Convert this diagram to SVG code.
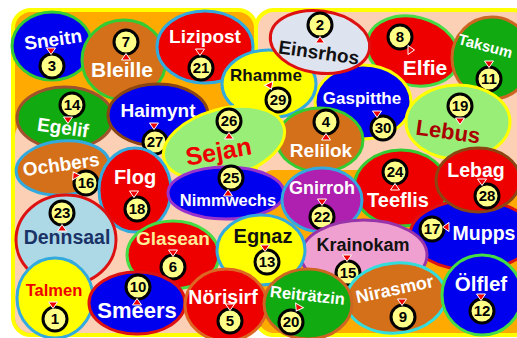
<svg xmlns="http://www.w3.org/2000/svg" xmlns:xlink="http://www.w3.org/1999/xlink" width="517" height="338" viewBox="0 0 517 338">
<style>
.e{stroke-width:3}
.l{font-family:"Liberation Sans",Arial,sans-serif;font-weight:bold;text-anchor:middle}
.w{fill:#ffffff}
.k{fill:#111111}
.nc{fill:#ffff88;stroke:#000000;stroke-width:3}
.nt{font-family:"Liberation Sans",Arial,sans-serif;font-weight:bold;font-size:15px;text-anchor:middle;fill:#000000}
.tri{fill:#ee0000;stroke:#ffffff;stroke-width:1}
</style>
<defs>
<polygon id="tri" points="-4.5,-3 4.5,-3 0,3.5"/>
</defs>
<rect width="517" height="338" fill="#ffffff"/>
<g id="background">
<rect x="13" y="10" width="243" height="325" rx="18" fill="#ffaa00" stroke="#ffff00" stroke-width="4"/>
<rect x="15" y="120" width="239" height="213" rx="16" fill="#fcd0b4"/>
<rect x="256" y="10" width="275" height="325" rx="18" fill="#fcd0b4" stroke="#ffff00" stroke-width="4"/>
<rect x="258" y="170" width="272" height="163" rx="16" fill="#ffaa00"/>
</g>
<g id="n3"><ellipse class="e" cx="52" cy="46" rx="40" ry="34" fill="#0000ee" stroke="#33cc33"/><text class="l w" font-size="19" transform="translate(54,46) rotate(-8)">Sneitn</text><circle class="nc" cx="52" cy="66" r="12"/><text class="nt" x="52" y="71">3</text></g>
<g id="n7"><ellipse class="e" cx="124" cy="60" rx="42" ry="40" fill="#d4701a" stroke="#33cc33"/><text class="l w" font-size="21" x="122" y="77">Bleille</text><circle class="nc" cx="126" cy="42" r="12"/><text class="nt" x="126" y="47">7</text></g>
<g id="n21"><ellipse class="e" cx="205" cy="47" rx="48" ry="36" fill="#ee0000" stroke="#33aadd"/><text class="l w" font-size="19" x="205" y="43">Lizipost</text><circle class="nc" cx="201" cy="68" r="12"/><text class="nt" x="201" y="73">21</text></g>
<g id="n8"><ellipse class="e" cx="413" cy="51" rx="47" ry="34" transform="rotate(15 413 51)" fill="#ee0000" stroke="#44dd44"/><text class="l w" font-size="21" x="425" y="75">Elfie</text><circle class="nc" cx="400" cy="37" r="12"/><text class="nt" x="400" y="42">8</text></g>
<g id="n11"><ellipse class="e" cx="492" cy="58" rx="40" ry="41" fill="#11aa11" stroke="#cc6622"/><text class="l w" font-size="15" transform="translate(484,51) rotate(15)">Taksum</text><circle class="nc" cx="489" cy="79" r="12"/><text class="nt" x="489" y="84">11</text></g>
<g id="n30"><ellipse class="e" cx="363" cy="102" rx="48" ry="37" fill="#0000ee" stroke="#ffff00"/><text class="l w" font-size="17" x="362" y="104">Gaspitthe</text><circle class="nc" cx="383" cy="128" r="12"/><text class="nt" x="383" y="133">30</text></g>
<g id="n29"><ellipse class="e" cx="269" cy="84" rx="47" ry="34" fill="#ffff00" stroke="#33aadd"/><text class="l k" font-size="17" x="266" y="81">Rhamme</text><circle class="nc" cx="278" cy="100" r="12"/><text class="nt" x="278" y="105">29</text></g>
<g id="n2"><ellipse class="e" cx="320" cy="42" rx="50" ry="31" transform="rotate(8 320 42)" fill="#dde3ef" stroke="#dd1111"/><text class="l k" font-size="19" transform="translate(318,59) rotate(8)">Einsrhos</text><circle class="nc" cx="320" cy="25" r="12"/><text class="nt" x="320" y="30">2</text></g>
<g id="n14"><ellipse class="e" cx="65" cy="118" rx="48" ry="31" fill="#11aa11" stroke="#a0522d"/><text class="l w" font-size="19" transform="translate(62,134) rotate(8)">Egelif</text><circle class="nc" cx="72" cy="105" r="12"/><text class="nt" x="72" y="110">14</text></g>
<g id="n27"><ellipse class="e" cx="158" cy="115" rx="50" ry="31" fill="#0000ee" stroke="#8b4513"/><text class="l w" font-size="19" x="158" y="117">Haimynt</text><circle class="nc" cx="155" cy="142" r="12"/><text class="nt" x="155" y="147">27</text></g>
<g id="n19"><ellipse class="e" cx="458" cy="122" rx="52" ry="37" fill="#99ee77" stroke="#ffff00"/><text class="l" fill="#aa0000" font-size="22" transform="translate(447,139) rotate(8)">Lebus</text><circle class="nc" cx="460" cy="106" r="12"/><text class="nt" x="460" y="111">19</text></g>
<g id="n4"><ellipse class="e" cx="320" cy="140" rx="43" ry="32" fill="#d4701a" stroke="#33cc33"/><text class="l w" font-size="19" x="321" y="157">Relilok</text><circle class="nc" cx="326" cy="122" r="12"/><text class="nt" x="326" y="127">4</text></g>
<g id="n26"><ellipse class="e" cx="224" cy="143" rx="62" ry="34" transform="rotate(-15 224 143)" fill="#99ee77" stroke="#ffff00"/><text class="l" fill="#ee0000" font-size="25" transform="translate(220,160) rotate(-10)">Sejan</text><circle class="nc" cx="229" cy="121" r="12"/><text class="nt" x="229" y="126">26</text></g>
<g id="n16"><ellipse class="e" cx="63" cy="168" rx="47" ry="27" transform="rotate(-5 63 168)" fill="#d4701a" stroke="#33aadd"/><text class="l w" font-size="19" transform="translate(62,171) rotate(-8)">Ochbers</text><circle class="nc" cx="86" cy="183" r="12"/><text class="nt" x="86" y="188">16</text></g>
<g id="n18"><ellipse class="e" cx="135" cy="190" rx="36" ry="42" fill="#ee0000" stroke="#33aadd"/><text class="l w" font-size="20" x="135" y="184">Flog</text><circle class="nc" cx="137" cy="209" r="12"/><text class="nt" x="137" y="214">18</text></g>
<g id="n25"><ellipse class="e" cx="226" cy="193" rx="58" ry="26" fill="#0000ee" stroke="#9933cc"/><text class="l w" font-size="16.5" x="228" y="206">Nimmwechs</text><circle class="nc" cx="231" cy="178" r="12"/><text class="nt" x="231" y="183">25</text></g>
<g id="n24"><ellipse class="e" cx="401" cy="188" rx="47" ry="38" fill="#ee0000" stroke="#33cc33"/><text class="l w" font-size="20" x="398" y="207">Teeflis</text><circle class="nc" cx="395" cy="172" r="12"/><text class="nt" x="395" y="177">24</text></g>
<g id="n22"><ellipse class="e" cx="322" cy="200" rx="40" ry="32" fill="#b020b0" stroke="#33aadd"/><text class="l w" font-size="18" x="322" y="194">Gnirroh</text><circle class="nc" cx="322" cy="217" r="12"/><text class="nt" x="322" y="222">22</text></g>
<g id="n23"><ellipse class="e" cx="66" cy="240" rx="50" ry="45" fill="#add8e6" stroke="#dd1111"/><text class="l" fill="#1a3366" font-size="19.5" x="67" y="244">Dennsaal</text><circle class="nc" cx="62" cy="213" r="12"/><text class="nt" x="62" y="218">23</text></g>
<g id="n17"><ellipse class="e" cx="472" cy="235" rx="62" ry="35" fill="#0000ee" stroke="#dd1111"/><text class="l w" font-size="19.5" x="484" y="240">Mupps</text><circle class="nc" cx="432" cy="229" r="12"/><text class="nt" x="432" y="234">17</text></g>
<g id="n28"><ellipse class="e" cx="478" cy="180" rx="42" ry="32" fill="#ee0000" stroke="#8b4513"/><text class="l w" font-size="19.5" x="476" y="177">Lebag</text><circle class="nc" cx="487" cy="196" r="12"/><text class="nt" x="487" y="201">28</text></g>
<g id="n15"><ellipse class="e" cx="364" cy="255" rx="63" ry="35" fill="#f0a0d0" stroke="#9933aa"/><text class="l k" font-size="18" x="363" y="251">Krainokam</text><circle class="nc" cx="348" cy="273" r="12"/><text class="nt" x="348" y="278">15</text></g>
<g id="n6"><ellipse class="e" cx="173" cy="255" rx="46" ry="34" fill="#ee0000" stroke="#44dd44"/><text class="l" fill="#ffee99" font-size="19" x="173" y="245">Glasean</text><circle class="nc" cx="173" cy="267" r="12"/><text class="nt" x="173" y="272">6</text></g>
<g id="n13"><ellipse class="e" cx="261" cy="250" rx="44" ry="35" fill="#ffff00" stroke="#33aadd"/><text class="l k" font-size="20" x="263" y="243">Egnaz</text><circle class="nc" cx="267" cy="262" r="12"/><text class="nt" x="267" y="267">13</text></g>
<g id="n1"><ellipse class="e" cx="55" cy="298" rx="38" ry="40" fill="#ffff00" stroke="#33aadd"/><text class="l" fill="#ee0000" font-size="16.5" x="54" y="296">Talmen</text><circle class="nc" cx="55" cy="319" r="12"/><text class="nt" x="55" y="324">1</text></g>
<g id="n10"><ellipse class="e" cx="137" cy="303" rx="48" ry="31" fill="#0000ee" stroke="#dd1111"/><text class="l w" font-size="22" x="137" y="318">Smeers</text><circle class="nc" cx="138" cy="287" r="12"/><text class="nt" x="138" y="292">10</text></g>
<g id="n5"><ellipse class="e" cx="226" cy="305" rx="41" ry="36" fill="#ee0000" stroke="#dd6622"/><text class="l w" font-size="19.5" x="223" y="304">Nörisirf</text><circle class="nc" cx="230" cy="321" r="12"/><text class="nt" x="230" y="326">5</text></g>
<g id="n9"><ellipse class="e" cx="396" cy="298" rx="50" ry="35" transform="rotate(-5 396 298)" fill="#d4701a" stroke="#33dddd"/><text class="l w" font-size="18" transform="translate(396,295) rotate(-12)">Nirasmor</text><circle class="nc" cx="403" cy="317" r="12"/><text class="nt" x="403" y="322">9</text></g>
<g id="n20"><ellipse class="e" cx="308" cy="304" rx="44" ry="35" fill="#11aa11" stroke="#cc6622"/><text class="l w" font-size="16.5" transform="translate(307,301) rotate(6)">Reiträtzin</text><circle class="nc" cx="291" cy="322" r="12"/><text class="nt" x="291" y="327">20</text></g>
<g id="n12"><ellipse class="e" cx="482" cy="295" rx="40" ry="40" fill="#0000ee" stroke="#44dd44"/><text class="l w" font-size="20.5" x="481" y="291">Ölflef</text><circle class="nc" cx="482" cy="311" r="12"/><text class="nt" x="482" y="316">12</text></g>
<g id="connectors">
<use xlink:href="#tri" class="tri" transform="translate(51,51)"/>
<use xlink:href="#tri" class="tri" transform="translate(126,57) rotate(180)"/>
<use xlink:href="#tri" class="tri" transform="translate(200,52)"/>
<use xlink:href="#tri" class="tri" transform="translate(320,40) rotate(180)"/>
<use xlink:href="#tri" class="tri" transform="translate(411,50) rotate(-90)"/>
<use xlink:href="#tri" class="tri" transform="translate(489,64)"/>
<use xlink:href="#tri" class="tri" transform="translate(270,86) rotate(-25)"/>
<use xlink:href="#tri" class="tri" transform="translate(68,120)"/>
<use xlink:href="#tri" class="tri" transform="translate(154,126)"/>
<use xlink:href="#tri" class="tri" transform="translate(229,136) rotate(180)"/>
<use xlink:href="#tri" class="tri" transform="translate(377,114)"/>
<use xlink:href="#tri" class="tri" transform="translate(326,137) rotate(180)"/>
<use xlink:href="#tri" class="tri" transform="translate(460,121)"/>
<use xlink:href="#tri" class="tri" transform="translate(75,175) rotate(150)"/>
<use xlink:href="#tri" class="tri" transform="translate(134,194)"/>
<use xlink:href="#tri" class="tri" transform="translate(228,193) rotate(180)"/>
<use xlink:href="#tri" class="tri" transform="translate(322,202)"/>
<use xlink:href="#tri" class="tri" transform="translate(395,187) rotate(180)"/>
<use xlink:href="#tri" class="tri" transform="translate(482,182)"/>
<use xlink:href="#tri" class="tri" transform="translate(62,228) rotate(180)"/>
<use xlink:href="#tri" class="tri" transform="translate(173,253)"/>
<use xlink:href="#tri" class="tri" transform="translate(265,248)"/>
<use xlink:href="#tri" class="tri" transform="translate(347,258)"/>
<use xlink:href="#tri" class="tri" transform="translate(446,227) rotate(90)"/>
<use xlink:href="#tri" class="tri" transform="translate(53,305)"/>
<use xlink:href="#tri" class="tri" transform="translate(137,302) rotate(180)"/>
<use xlink:href="#tri" class="tri" transform="translate(230,307)"/>
<use xlink:href="#tri" class="tri" transform="translate(298,308) rotate(30)"/>
<use xlink:href="#tri" class="tri" transform="translate(402,302)"/>
<use xlink:href="#tri" class="tri" transform="translate(481,297)"/>
</g>
</svg>
